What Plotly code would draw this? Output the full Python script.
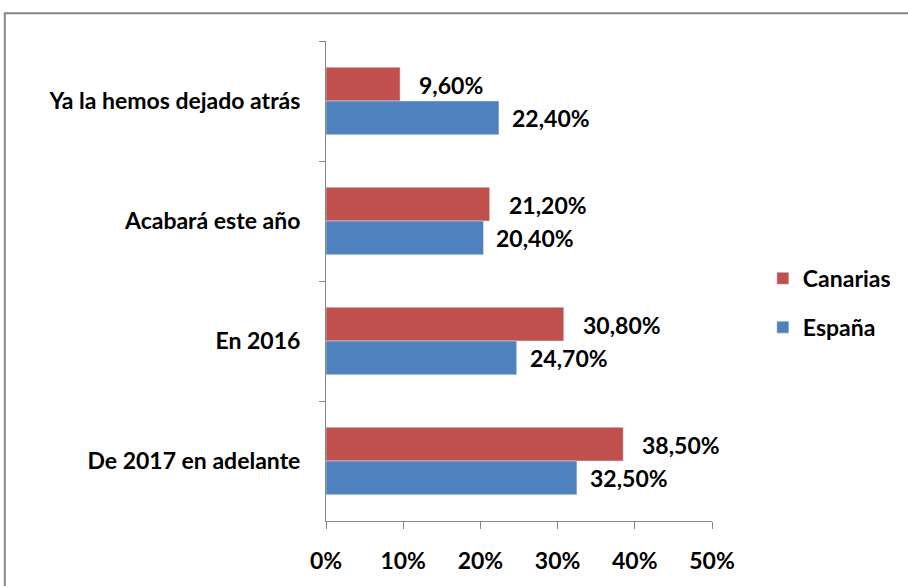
import plotly.graph_objects as go

categories = ["Ya la hemos dejado atrás", "Acabará este año", "En 2016", "De 2017 en adelante"]
canarias = [9.6, 21.2, 30.8, 38.5]
espana = [22.4, 20.4, 24.7, 32.5]
x_ticks = [0, 10, 20, 30, 40, 50]
x_tick_labels = ["0%", "10%", "20%", "30%", "40%", "50%"]

RED = "#C0504D"
BLUE = "#4F81BD"
FONT = "Lato"
FS = 23

def fmt(v):
    return f"{v:.2f}".replace(".", ",") + "%"

fig = go.Figure()
fig.add_trace(go.Bar(y=categories, x=canarias, orientation="h", name="Canarias",
                     marker_color=RED, legendgroup="a"))
fig.add_trace(go.Bar(y=categories, x=espana, orientation="h", name="España",
                     marker_color=BLUE, legendgroup="b"))

annotations = []
for cat, v in zip(categories, canarias):
    annotations.append(dict(x=v, y=cat, text=fmt(v), showarrow=False, xanchor="left",
                            xshift=17, yshift=16, font=dict(family=FONT, size=FS, color="black", weight="bold")))
for cat, v in zip(categories, espana):
    annotations.append(dict(x=v, y=cat, text=fmt(v), showarrow=False, xanchor="left",
                            xshift=11, yshift=-17, font=dict(family=FONT, size=FS, color="black", weight="bold")))

L, T, R, B = 326, 41, 908 - 713, 586 - 525
pw, ph = 713 - L, 525 - T

fig.update_layout(
    width=908, height=586,
    margin=dict(l=L, r=R, t=T, b=B, pad=0),
    paper_bgcolor="white", plot_bgcolor="white",
    barmode="group", bargap=0.438, bargroupgap=0,
    font=dict(family=FONT, size=FS, color="black", weight="bold"),
    annotations=annotations,
    showlegend=True,
    legend=dict(x=(764 - L) / pw, y=(525 - 305) / ph, xanchor="left", yanchor="middle",
                traceorder="grouped", tracegroupgap=16,
                font=dict(family=FONT, size=FS, color="black", weight="bold"),
                bgcolor="rgba(0,0,0,0)"),
    xaxis=dict(range=[0, 50], tickvals=x_ticks, ticktext=x_tick_labels,
               showgrid=False, zeroline=False, showline=True, linecolor="#868686", linewidth=1,
               ticks="outside", ticklen=7, tickcolor="#868686", ticklabelstandoff=12,
               fixedrange=True),
    yaxis=dict(autorange="reversed", showgrid=False, zeroline=False, showline=True,
               linecolor="#868686", linewidth=1, ticks="outside", ticklen=6,
               tickcolor="#868686", tickson="boundaries", ticklabelstandoff=20),
    shapes=[dict(type="rect", xref="paper", yref="paper",
                 x0=(4 - L) / pw, x1=(1000 - L) / pw,
                 y0=(525 - 700) / ph, y1=(525 - 13) / ph,
                 line=dict(color="#868686", width=2), layer="below")],
)

fig.write_html("out.html")
